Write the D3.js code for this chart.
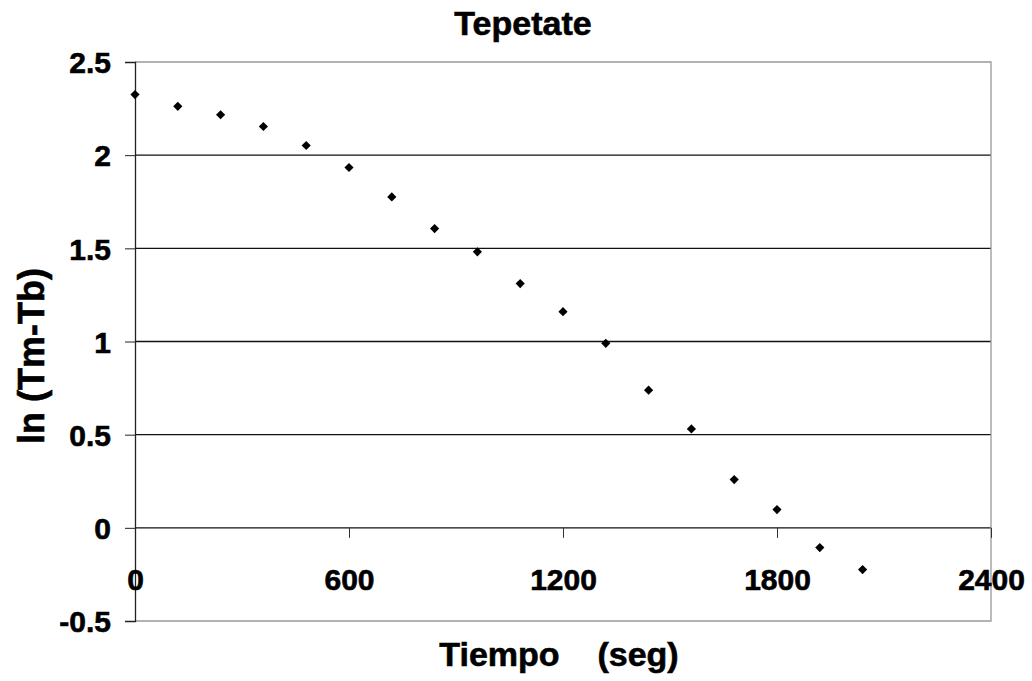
<!DOCTYPE html>
<html>
<head>
<meta charset="utf-8">
<script src="https://cdn.jsdelivr.net/npm/d3@7"></script>
<style>
  body { margin: 0; background: #fff; }
  text { font-family: "Liberation Sans", Arial, sans-serif; font-weight: bold; fill: #000; stroke: #000; stroke-width: 0.6px; }
</style>
</head>
<body>
<svg id="chart" width="1032" height="681"></svg>
<script>
// data
const tiempo = [0, 120, 240, 360, 480, 600, 720, 840, 960, 1080, 1200, 1320, 1440, 1560, 1680, 1800, 1920, 2040];
const lnValues = [2.325, 2.262, 2.217, 2.154, 2.052, 1.934, 1.776, 1.606, 1.481, 1.311, 1.160, 0.990, 0.739, 0.531, 0.259, 0.098, -0.106, -0.224];
const xTicks = [0, 600, 1200, 1800, 2400];
const yTicks = [-0.5, 0, 0.5, 1, 1.5, 2, 2.5];

const svg = d3.select("#chart");
const width = 1032;
const height = 681;
const margin = { top: 62, right: 41, bottom: 60, left: 135 };

const x = d3.scaleLinear()
  .domain([0, 2400])
  .range([margin.left, width - margin.right]);

const y = d3.scaleLinear()
  .domain([-0.5, 2.5])
  .range([height - margin.bottom, margin.top]);

// horizontal gridlines
svg.append("g")
  .selectAll("line")
  .data(yTicks.filter(d => d > -0.5 && d < 2.5))
  .join("line")
  .attr("x1", x(0))
  .attr("x2", x(2400))
  .attr("y1", d => y(d))
  .attr("y2", d => y(d))
  .attr("stroke", "#111")
  .attr("stroke-width", 1.3);

// plot border (top, right, bottom)
svg.append("path")
  .attr("d", `M${x(0)},${y(2.5)}H${x(2400)}V${y(-0.5)}H${x(0)}`)
  .attr("fill", "none")
  .attr("stroke", "#999")
  .attr("stroke-width", 1.3);

// y axis
const yAxis = svg.append("g")
  .attr("transform", `translate(${x(0)},0)`)
  .call(d3.axisLeft(y).tickValues(yTicks).tickSize(10).tickPadding(14).tickFormat(d => String(d)));
yAxis.select(".domain").attr("stroke", "#222").attr("stroke-width", 1.3);
yAxis.selectAll(".tick line").attr("stroke", "#222");
yAxis.selectAll(".tick text")
  .attr("font-size", 30)
  .attr("font-family", null)
  .attr("dy", "0.36em");

// x axis sits on y = 0
const xAxis = svg.append("g")
  .attr("transform", `translate(0,${y(0)})`)
  .call(d3.axisBottom(x).tickValues(xTicks).tickSize(10).tickPadding(0).tickFormat(d => String(d)));
xAxis.select(".domain").remove();
xAxis.selectAll(".tick line").attr("stroke", "#333").filter(d => d === 0).remove();
xAxis.selectAll(".tick text")
  .attr("font-size", 30)
  .attr("font-family", null)
  .attr("y", 62)
  .attr("dy", null);

// markers
const diamond = d3.symbol().type(d3.symbolSquare).size(42);
svg.append("g")
  .selectAll("path")
  .data(tiempo.map((t, i) => [t, lnValues[i]]))
  .join("path")
  .attr("d", diamond)
  .attr("transform", d => `translate(${x(d[0])},${y(d[1])}) rotate(45)`)
  .attr("fill", "#000");

// titles
svg.append("text")
  .attr("x", 523)
  .attr("y", 35)
  .attr("text-anchor", "middle")
  .attr("font-size", 34)
  .text("Tepetate");

svg.append("text")
  .attr("x", 559)
  .attr("y", 666)
  .attr("text-anchor", "middle")
  .attr("font-size", 34)
  .style("white-space", "pre")
  .text("Tiempo    (seg)");

svg.append("text")
  .attr("transform", "translate(44,356) rotate(-90)")
  .attr("text-anchor", "middle")
  .attr("font-size", 36)
  .text("ln (Tm-Tb)");
</script>
</body>
</html>
